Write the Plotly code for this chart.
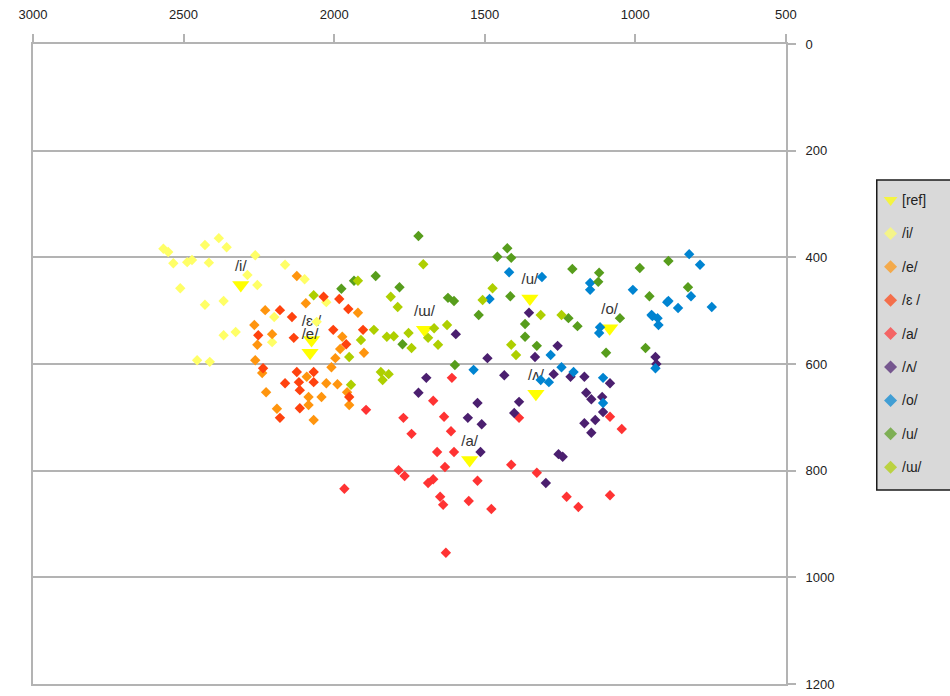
import plotly.graph_objects as go

FONT = "Liberation Sans, Arial, sans-serif"

# Reference vowel targets (F2 in Hz on x, F1 in Hz on y)
ref_labels = ["/i/", "/ɛ /", "/e/", "/ɯ/", "/u/", "/o/", "/ʌ/", "/a/"]
ref_f2 = [2310, 2075, 2080, 1700, 1350, 1085, 1330, 1550]
ref_f1 = [452, 555, 579, 536, 477, 533, 656, 780]

# Measured tokens per vowel
i_f2 = [2567, 2551, 2534, 2488, 2472, 2429, 2383, 2357, 2416, 2511, 2429, 2367, 2367,
        2327, 2262, 2288, 2255, 2163, 2098, 2455, 2413, 2199, 2206, 2058, 2026]
i_f1 = [384, 390, 411, 409, 405, 377, 364, 381, 410, 458, 489, 482, 546,
        540, 396, 433, 452, 414, 441, 593, 596, 512, 559, 521, 484]

e_f2 = [2124, 2229, 2265, 2255, 2262, 2239, 2226, 2190, 2085, 2085, 2068, 2042, 2026,
        1989, 2009, 1996, 1980, 1973, 1921, 1901, 1957, 1950, 2091, 2094, 2206]
e_f1 = [435, 499, 527, 564, 593, 617, 653, 684, 662, 677, 705, 662, 636,
        638, 606, 589, 572, 549, 504, 579, 653, 677, 624, 486, 544]

eh_f2 = [2180, 2140, 2252, 2236, 2134, 2163, 2124, 2117, 2114, 2114, 2180, 2068, 2068,
         2035, 1983, 1953, 2003, 1960, 1904, 1950]
eh_f1 = [499, 512, 546, 608, 551, 636, 615, 634, 649, 683, 701, 634, 615,
         474, 478, 497, 536, 563, 536, 662]

a_f2 = [1609, 1671, 1770, 1743, 1635, 1612, 1658, 1602, 1632, 1786, 1766, 1688, 1671,
        1648, 1638, 1553, 1524, 1478, 1412, 1327, 1386, 1228, 1189, 1084, 1045, 1084,
        1629, 1966, 1894]
a_f1 = [626, 669, 701, 731, 699, 726, 765, 765, 793, 799, 810, 823, 816,
        849, 864, 857, 819, 872, 789, 804, 701, 849, 868, 699, 722, 846,
        954, 834, 686]

v_f2 = [1596, 1353, 1491, 1435, 1333, 1258, 1271, 1215, 1169, 1694, 1720, 1386, 1524,
        1163, 1146, 1084, 1110, 933, 930, 1556, 1510, 1402, 1514, 1255, 1241, 1297,
        1169, 1133, 1146, 1107]
v_f1 = [544, 504, 589, 621, 587, 566, 619, 624, 624, 626, 654, 671, 673,
        654, 666, 636, 662, 587, 600, 701, 713, 692, 765, 769, 774, 823,
        711, 705, 729, 690]

o_f2 = [1419, 1310, 1484, 1537, 1281, 1245, 1205, 1314, 1287, 1150, 1150, 1117, 1008,
        946, 923, 894, 1107, 933, 821, 785, 890, 858, 815, 746, 943, 926, 1120, 1107]
o_f1 = [428, 437, 478, 611, 583, 606, 615, 630, 634, 448, 461, 531, 461,
        508, 527, 484, 626, 608, 394, 414, 482, 495, 473, 493, 510, 514, 542, 673]

u_f2 = [1720, 1862, 1783, 1622, 1602, 1520, 1773, 1599, 1458, 1425, 1412, 1415, 1366,
        1366, 1327, 1209, 1120, 1123, 1222, 1192, 1051, 1097, 985, 953, 890, 825, 966,
        1976, 1934]
u_f1 = [360, 435, 456, 476, 482, 508, 563, 602, 399, 383, 401, 473, 525,
        549, 566, 422, 429, 446, 514, 529, 514, 579, 420, 473, 407, 456, 570,
        459, 444]

w_f2 = [1704, 1921, 1812, 1789, 1868, 1911, 1825, 1802, 1753, 1743, 1668, 1688, 1655,
        1625, 1474, 1507, 1314, 1245, 1412, 1396, 1845, 1819, 1839, 1950, 1944, 2068]
w_f1 = [413, 444, 474, 493, 536, 555, 549, 548, 542, 570, 533, 551, 564,
        527, 458, 480, 508, 508, 564, 583, 615, 619, 630, 587, 639, 471]

series = [
    ("/i/", i_f2, i_f1, "#ffff66"),
    ("/e/", e_f2, e_f1, "#ff950e"),
    ("/ɛ /", eh_f2, eh_f1, "#ff420e"),
    ("/a/", a_f2, a_f1, "#ff3333"),
    ("/ʌ/", v_f2, v_f1, "#4b1f6f"),
    ("/o/", o_f2, o_f1, "#0084d1"),
    ("/u/", u_f2, u_f1, "#579d1c"),
    ("/ɯ/", w_f2, w_f1, "#aecf00"),
]
REF_COLOR = "#ffff00"
GRID = "#b3b3b3"

# Canvas geometry (pixels)
W, H = 950, 696
ML, MT, MB = 33, 44, 12
PLOT_R = 795
BOX_L, BOX_T, BOX_B = 887, 180, 490
paper_w = W - ML
paper_h = H - MT - MB

fig = go.Figure()

fig.add_trace(go.Scatter(
    x=ref_f2, y=ref_f1, mode="markers+text", text=ref_labels,
    textposition="top center",
    textfont=dict(family=FONT, size=15, color="#333333"),
    marker=dict(symbol="triangle-down", size=15, color=REF_COLOR, line=dict(width=0)),
    xaxis="x", yaxis="y", hoverinfo="skip",
))
for name, xs, ys, col in series:
    fig.add_trace(go.Scatter(
        x=xs, y=ys, mode="markers", name=name,
        marker=dict(symbol="diamond", size=8, color=col, line=dict(width=0)),
        xaxis="x", yaxis="y",
    ))

# Legend panel drawn on its own pixel-unit axes
legend_names = ["[ref]"] + [s[0] for s in series]
legend_colors = [REF_COLOR] + [s[3] for s in series]
legend_symbols = ["triangle-down"] + ["diamond"] * len(series)
row_step = 33.4
row_y = [20 + row_step * k for k in range(len(legend_names))]
fig.add_trace(go.Scatter(
    x=[14] * len(legend_names), y=row_y, mode="markers",
    marker=dict(symbol=legend_symbols, size=[12] + [10] * len(series),
                color=legend_colors, line=dict(width=0)),
    xaxis="x2", yaxis="y2", hoverinfo="skip",
))
for name, yy in zip(legend_names, row_y):
    fig.add_annotation(
        x=24, y=yy, xref="x2", yref="y2", text=name, showarrow=False,
        xanchor="left", yanchor="middle",
        font=dict(family=FONT, size=14, color="#222222"),
    )
fig.add_shape(
    type="rect", xref="x2 domain", yref="y2 domain", x0=0, x1=1.3, y0=0, y1=1,
    fillcolor="#d9d9d9", line=dict(color="#1a1a1a", width=1.5), layer="below",
)

fig.update_layout(
    width=W, height=H,
    margin=dict(l=ML, r=0, t=MT, b=MB, pad=0),
    paper_bgcolor="white", plot_bgcolor="white",
    showlegend=False,
    font=dict(family=FONT, size=13, color="#222222"),
    xaxis=dict(
        domain=[0, (PLOT_R - ML) / paper_w], range=[3000, 500], side="top",
        tick0=500, dtick=500, ticks="outside", ticklen=8, tickwidth=2, tickcolor=GRID,
        showline=True, linecolor=GRID, linewidth=2, mirror=True,
        showgrid=False, zeroline=False, ticklabelstandoff=10,
        tickfont=dict(size=13, color="#222222"),
    ),
    yaxis=dict(
        domain=[0, 1], range=[1200, 0], side="right", anchor="x",
        tick0=0, dtick=200, ticks="outside", ticklen=8, tickwidth=2, tickcolor=GRID,
        showline=True, linecolor=GRID, linewidth=2, mirror=True,
        showgrid=True, gridcolor=GRID, gridwidth=2, zeroline=False,
        ticklabelstandoff=7, tickfont=dict(size=13, color="#222222"),
    ),
    xaxis2=dict(
        domain=[(BOX_L - ML) / paper_w, 1], range=[0, W - BOX_L], anchor="y2",
        visible=False, fixedrange=True,
    ),
    yaxis2=dict(
        domain=[(H - MB - BOX_B) / paper_h, (H - MB - BOX_T) / paper_h],
        range=[BOX_B - BOX_T, 0], anchor="x2", visible=False, fixedrange=True,
    ),
)

fig.write_html("out.html")
